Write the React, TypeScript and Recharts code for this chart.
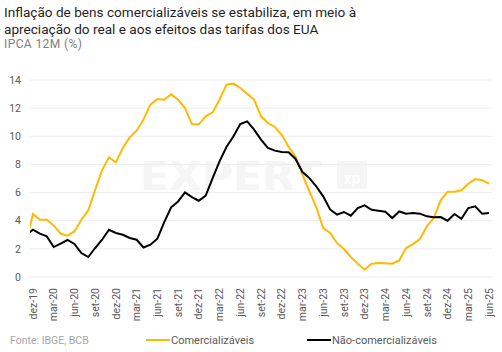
import React from 'react';
import { LineChart, Line, XAxis, YAxis, CartesianGrid } from 'recharts';

const months = [
  'nov-19', 'dez-19',
  'jan-20', 'fev-20', 'mar-20', 'abr-20', 'mai-20', 'jun-20', 'jul-20', 'ago-20', 'set-20', 'out-20', 'nov-20', 'dez-20',
  'jan-21', 'fev-21', 'mar-21', 'abr-21', 'mai-21', 'jun-21', 'jul-21', 'ago-21', 'set-21', 'out-21', 'nov-21', 'dez-21',
  'jan-22', 'fev-22', 'mar-22', 'abr-22', 'mai-22', 'jun-22', 'jul-22', 'ago-22', 'set-22', 'out-22', 'nov-22', 'dez-22',
  'jan-23', 'fev-23', 'mar-23', 'abr-23', 'mai-23', 'jun-23', 'jul-23', 'ago-23', 'set-23', 'out-23', 'nov-23', 'dez-23',
  'jan-24', 'fev-24', 'mar-24', 'abr-24', 'mai-24', 'jun-24', 'jul-24', 'ago-24', 'set-24', 'out-24', 'nov-24', 'dez-24',
  'jan-25', 'fev-25', 'mar-25', 'abr-25', 'mai-25', 'jun-25',
];

const comercializaveis = [
  2.4, 4.48,
  4.07, 4.07, 3.67, 3.08, 2.94, 3.24, 4.07, 4.73, 6.2, 7.6, 8.5, 8.15,
  9.17, 9.92, 10.4, 11.2, 12.25, 12.65, 12.6, 12.98, 12.6, 12.0, 10.87, 10.85,
  11.42, 11.7, 12.6, 13.67, 13.74, 13.43, 13.03, 12.6, 11.42, 10.94, 10.66, 10.11,
  9.24, 8.57, 7.27, 6.08, 4.97, 3.48, 3.13, 2.42, 1.99, 1.42, 0.95, 0.52,
  0.95, 0.99, 0.97, 0.95, 1.18, 2.06, 2.34, 2.7, 3.6, 4.19, 5.45, 6.06,
  6.06, 6.16, 6.63, 6.96, 6.87, 6.63,
];

const naoComercializaveis = [
  3.0, 3.36,
  3.08, 2.89, 2.13, 2.37, 2.63, 2.35, 1.7, 1.42, 2.06, 2.65, 3.36, 3.13,
  3.0, 2.77, 2.65, 2.1, 2.3, 2.72, 3.9, 4.95, 5.37, 6.01, 5.68, 5.42,
  5.78, 7.03, 8.22, 9.24, 9.99, 10.87, 11.06, 10.47, 9.76, 9.17, 8.98, 8.88,
  8.86, 8.39, 7.46, 7.03, 6.44, 5.73, 4.8, 4.43, 4.62, 4.36, 4.9, 5.09,
  4.78, 4.71, 4.64, 4.19, 4.66, 4.5, 4.55, 4.5, 4.31, 4.24, 4.26, 4.0,
  4.48, 4.14, 4.9, 5.02, 4.5, 4.55,
];

const tickLabels = [
  'dez-19', 'mar-20', 'jun-20', 'set-20', 'dez-20', 'mar-21', 'jun-21', 'set-21',
  'dez-21', 'mar-22', 'jun-22', 'set-22', 'dez-22', 'mar-23', 'jun-23', 'set-23',
  'dez-23', 'mar-24', 'jun-24', 'set-24', 'dez-24', 'mar-25', 'jun-25',
];

const yTicks = [0, 2, 4, 6, 8, 10, 12, 14];

const data = months.map((m, k) => ({
  i: k - 1,
  month: m,
  c: comercializaveis[k],
  n: naoComercializaveis[k],
}));

const xTicks = tickLabels.map((_, k) => k * 3);

const YELLOW = '#FFBA00';
const FONT = 'Roboto, "Noto Sans", sans-serif';

const XTick = (props: any) => {
  const { x, y, payload } = props;
  const label = tickLabels[Math.round(payload.value / 3)] ?? '';
  return (
    <text
      x={x}
      y={y}
      transform={`rotate(-90, ${x}, ${y})`}
      textAnchor="end"
      dy="0.35em"
      fontSize={10.5}
      fill="#595959"
      fontFamily={FONT}
    >
      {label}
    </text>
  );
};

export default function App() {
  return (
    <div
      style={{
        position: 'absolute',
        left: 0,
        top: 0,
        width: 502,
        height: 352,
        background: '#fff',
        fontFamily: FONT,
        overflow: 'hidden',
      }}
    >
      <svg width={502} height={352} style={{ position: 'absolute', left: 0, top: 0 }}>
        <text x={4} y={17} fontSize={13.6} fill="#1f1f1f" fontFamily={FONT}>
          Inflação de bens comercializáveis se estabiliza, em meio à
        </text>
        <text x={4} y={34} fontSize={13.6} fill="#1f1f1f" fontFamily={FONT}>
          apreciação do real e aos efeitos das tarifas dos EUA
        </text>
        <text x={4} y={48} fontSize={12} fill="#808080" fontFamily={FONT} letterSpacing={0.4}>
          IPCA 12M (%)
        </text>
        {/* watermark */}
        <text
          x={140}
          y={190}
          fontSize={39}
          fontWeight={700}
          fill="#f5f5f5"
          fontFamily='"DejaVu Sans", sans-serif'
          textLength={182}
          lengthAdjust="spacingAndGlyphs"
        >
          EXPERT
        </text>
        <rect x={337} y={161} width={30} height={28} rx={3} fill="#f5f5f5" />
        <text x={352} y={184} fontSize={16} fontWeight={700} fill="#ffffff" textAnchor="middle" fontFamily={FONT}>
          xp
        </text>
        {/* footer + legend */}
        <text x={10} y={344} fontSize={10.5} fill="#a6a6a6" fontFamily={FONT}>
          Fonte: IBGE, BCB
        </text>
        <line x1={146} y1={340} x2={170} y2={340} stroke={YELLOW} strokeWidth={2} />
        <text x={171} y={344} fontSize={11} fill="#595959" fontFamily={FONT}>
          Comercializáveis
        </text>
        <line x1={307} y1={340} x2={331} y2={340} stroke="#000" strokeWidth={2} />
        <text x={332} y={344} fontSize={11} fill="#595959" fontFamily={FONT}>
          Não-comercializáveis
        </text>
      </svg>
      <div style={{ position: 'absolute', left: 0, top: 0 }}>
        <LineChart
          width={502}
          height={352}
          data={data}
          margin={{ top: 80, right: 10, bottom: 0, left: 0 }}
        >
          <CartesianGrid vertical={false} stroke="#ececec" strokeWidth={1} />
          <XAxis
            dataKey="i"
            type="number"
            domain={[-0.43, 66.43]}
            allowDataOverflow
            ticks={xTicks}
            interval={0}
            tick={<XTick />}
            tickLine={false}
            axisLine={false}
            tickMargin={5}
            height={75}
          />
          <YAxis
            domain={[0, 14]}
            ticks={yTicks}
            interval={0}
            width={30}
            tickLine={false}
            axisLine={false}
            tickMargin={3}
            tick={{ fontSize: 10.5, fill: '#595959', fontFamily: FONT }}
          />
          <Line
            type="linear"
            dataKey="c"
            stroke={YELLOW}
            strokeWidth={2}
            dot={false}
            isAnimationActive={false}
          />
          <Line
            type="linear"
            dataKey="n"
            stroke="#000000"
            strokeWidth={2}
            dot={false}
            isAnimationActive={false}
          />
        </LineChart>
      </div>
    </div>
  );
}
